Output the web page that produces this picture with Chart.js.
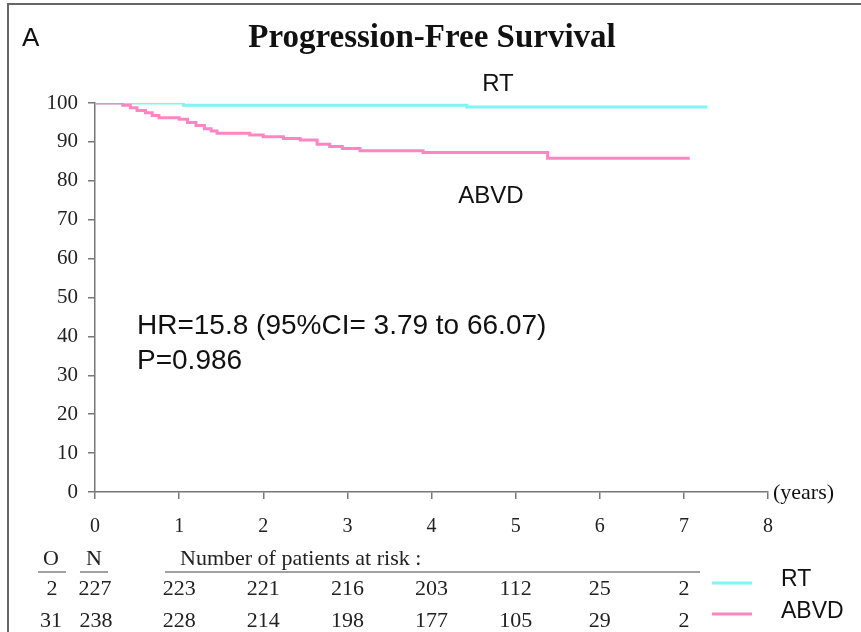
<!DOCTYPE html>
<html>
<head>
<meta charset="utf-8">
<script src="https://cdn.jsdelivr.net/npm/chart.js@4"></script>
<style>
  html, body { margin: 0; padding: 0; background: #fff; }
  #wrap { width: 861px; height: 632px; }
</style>
</head>
<body>
<div id="wrap"><canvas id="pfsChart" width="861" height="632"></canvas></div>
<script>
// Kaplan-Meier steps (years, % progression free)
var rtTimes = [0, 1.05, 4.42, 7.28];
var rtSurvival = [100, 99.4, 99.0, 99.0];
var abvdTimes = [0, 0.33, 0.42, 0.5, 0.6, 0.68, 0.76, 1.0, 1.1, 1.2, 1.3, 1.38, 1.45, 1.84, 2.0, 2.24, 2.44, 2.64, 2.79, 2.94, 3.15, 3.9, 5.38, 7.07];
var abvdSurvival = [100, 99.4, 98.8, 98.1, 97.5, 96.8, 96.2, 95.8, 95.0, 94.2, 93.4, 92.8, 92.2, 91.8, 91.3, 90.9, 90.5, 89.4, 88.8, 88.3, 87.7, 87.3, 85.8, 85.8];

// number at risk table
var riskYears = [1, 2, 3, 4, 5, 6, 7];
var rtAtRisk = [223, 221, 216, 203, 112, 25, 2];
var abvdAtRisk = [228, 214, 198, 177, 105, 29, 2];
var rtObserved = 2, rtN = 227;
var abvdObserved = 31, abvdN = 238;

var rtColor = '#7ff5f5';
var abvdColor = '#ff86c2';
var serif = '"Liberation Serif", "Times New Roman", serif';
var sans = '"Liberation Sans", Arial, sans-serif';

function toPoints(xs, ys) {
    return xs.map(function (x, i) { return { x: x, y: ys[i] }; });
}

var extras = {
    id: 'extras',
    afterDraw: function (chart) {
        var ctx = chart.ctx;
        var xs = chart.scales.x;
        ctx.save();

        // frame
        ctx.strokeStyle = '#666';
        ctx.lineWidth = 2;
        ctx.beginPath();
        ctx.moveTo(8, 632);
        ctx.lineTo(8, 4);
        ctx.lineTo(861, 4);
        ctx.stroke();

        ctx.fillStyle = '#111';
        ctx.textBaseline = 'middle';

        ctx.font = '26px ' + sans;
        ctx.textAlign = 'left';
        ctx.fillText('A', 22, 39);

        ctx.font = 'bold 33px ' + serif;
        ctx.textAlign = 'center';
        ctx.fillText('Progression-Free Survival', 432, 38);

        ctx.font = '24px ' + sans;
        ctx.fillText('RT', 498, 84);
        ctx.fillText('ABVD', 491, 196);

        ctx.textAlign = 'left';
        ctx.font = '28px ' + sans;
        ctx.fillText('HR=15.8 (95%CI= 3.79 to 66.07)', 137, 326);
        ctx.fillText('P=0.986', 137, 361);

        ctx.font = '22px ' + serif;
        ctx.fillText('(years)', 773, 493);

        // at risk table
        ctx.fillStyle = '#222';
        ctx.font = '22px ' + serif;
        ctx.textAlign = 'center';
        ctx.fillText('O', 51, 559);
        ctx.fillText('N', 94, 559);
        ctx.textAlign = 'left';
        ctx.fillText('Number of patients at risk :', 180, 559);
        ctx.strokeStyle = '#444';
        ctx.lineWidth = 1.2;
        ctx.beginPath();
        ctx.moveTo(38, 572); ctx.lineTo(66, 572);
        ctx.moveTo(80, 572); ctx.lineTo(108, 572);
        ctx.moveTo(165, 572); ctx.lineTo(700, 572);
        ctx.stroke();

        ctx.textAlign = 'center';
        ctx.fillText(String(rtObserved), 52, 589);
        ctx.fillText(String(rtN), 95, 589);
        ctx.fillText(String(abvdObserved), 51, 621);
        ctx.fillText(String(abvdN), 96, 621);
        riskYears.forEach(function (yr, i) {
            var px = xs.getPixelForValue(yr);
            ctx.fillText(String(rtAtRisk[i]), px, 589);
            ctx.fillText(String(abvdAtRisk[i]), px, 621);
        });

        // legend
        ctx.lineWidth = 3;
        ctx.strokeStyle = rtColor;
        ctx.beginPath(); ctx.moveTo(712, 583); ctx.lineTo(752, 583); ctx.stroke();
        ctx.strokeStyle = abvdColor;
        ctx.beginPath(); ctx.moveTo(712, 614); ctx.lineTo(752, 614); ctx.stroke();
        ctx.fillStyle = '#111';
        ctx.textAlign = 'left';
        ctx.font = '23px ' + sans;
        ctx.fillText('RT', 781, 580);
        ctx.fillText('ABVD', 781, 612);

        ctx.restore();
    }
};

var pfsChart = new Chart(document.getElementById('pfsChart'), {
    type: 'line',
    data: {
        datasets: [
            {
                label: 'ABVD',
                data: toPoints(abvdTimes, abvdSurvival),
                borderColor: abvdColor,
                borderWidth: 3,
                stepped: 'before',
                pointRadius: 0,
                fill: false
            },
            {
                label: 'RT',
                data: toPoints(rtTimes, rtSurvival),
                borderColor: rtColor,
                borderWidth: 3,
                stepped: 'before',
                pointRadius: 0,
                fill: false
            }
        ]
    },
    options: {
        responsive: false,
        animation: false,
        layout: { padding: { left: 0, top: 103, right: 93, bottom: 100 } },
        plugins: {
            legend: { display: false },
            tooltip: { enabled: false }
        },
        scales: {
            x: {
                type: 'linear',
                min: 0,
                max: 8,
                afterFit: function (scale) { scale.height = 40; },
                ticks: {
                    stepSize: 1,
                    color: '#222',
                    padding: 16,
                    font: { family: serif, size: 20 }
                },
                grid: { drawOnChartArea: false, drawTicks: true, tickLength: 7, color: '#777', lineWidth: 1.5 },
                border: { display: true, color: '#777', width: 1.5 }
            },
            y: {
                min: 0,
                max: 100,
                afterFit: function (scale) { scale.width = 95; },
                ticks: {
                    stepSize: 10,
                    color: '#222',
                    padding: 10,
                    font: { family: serif, size: 21 }
                },
                grid: { drawOnChartArea: false, drawTicks: true, tickLength: 7, color: '#777', lineWidth: 1.5 },
                border: { display: true, color: '#777', width: 1.5 }
            }
        }
    },
    plugins: [extras]
});
</script>
</body>
</html>
